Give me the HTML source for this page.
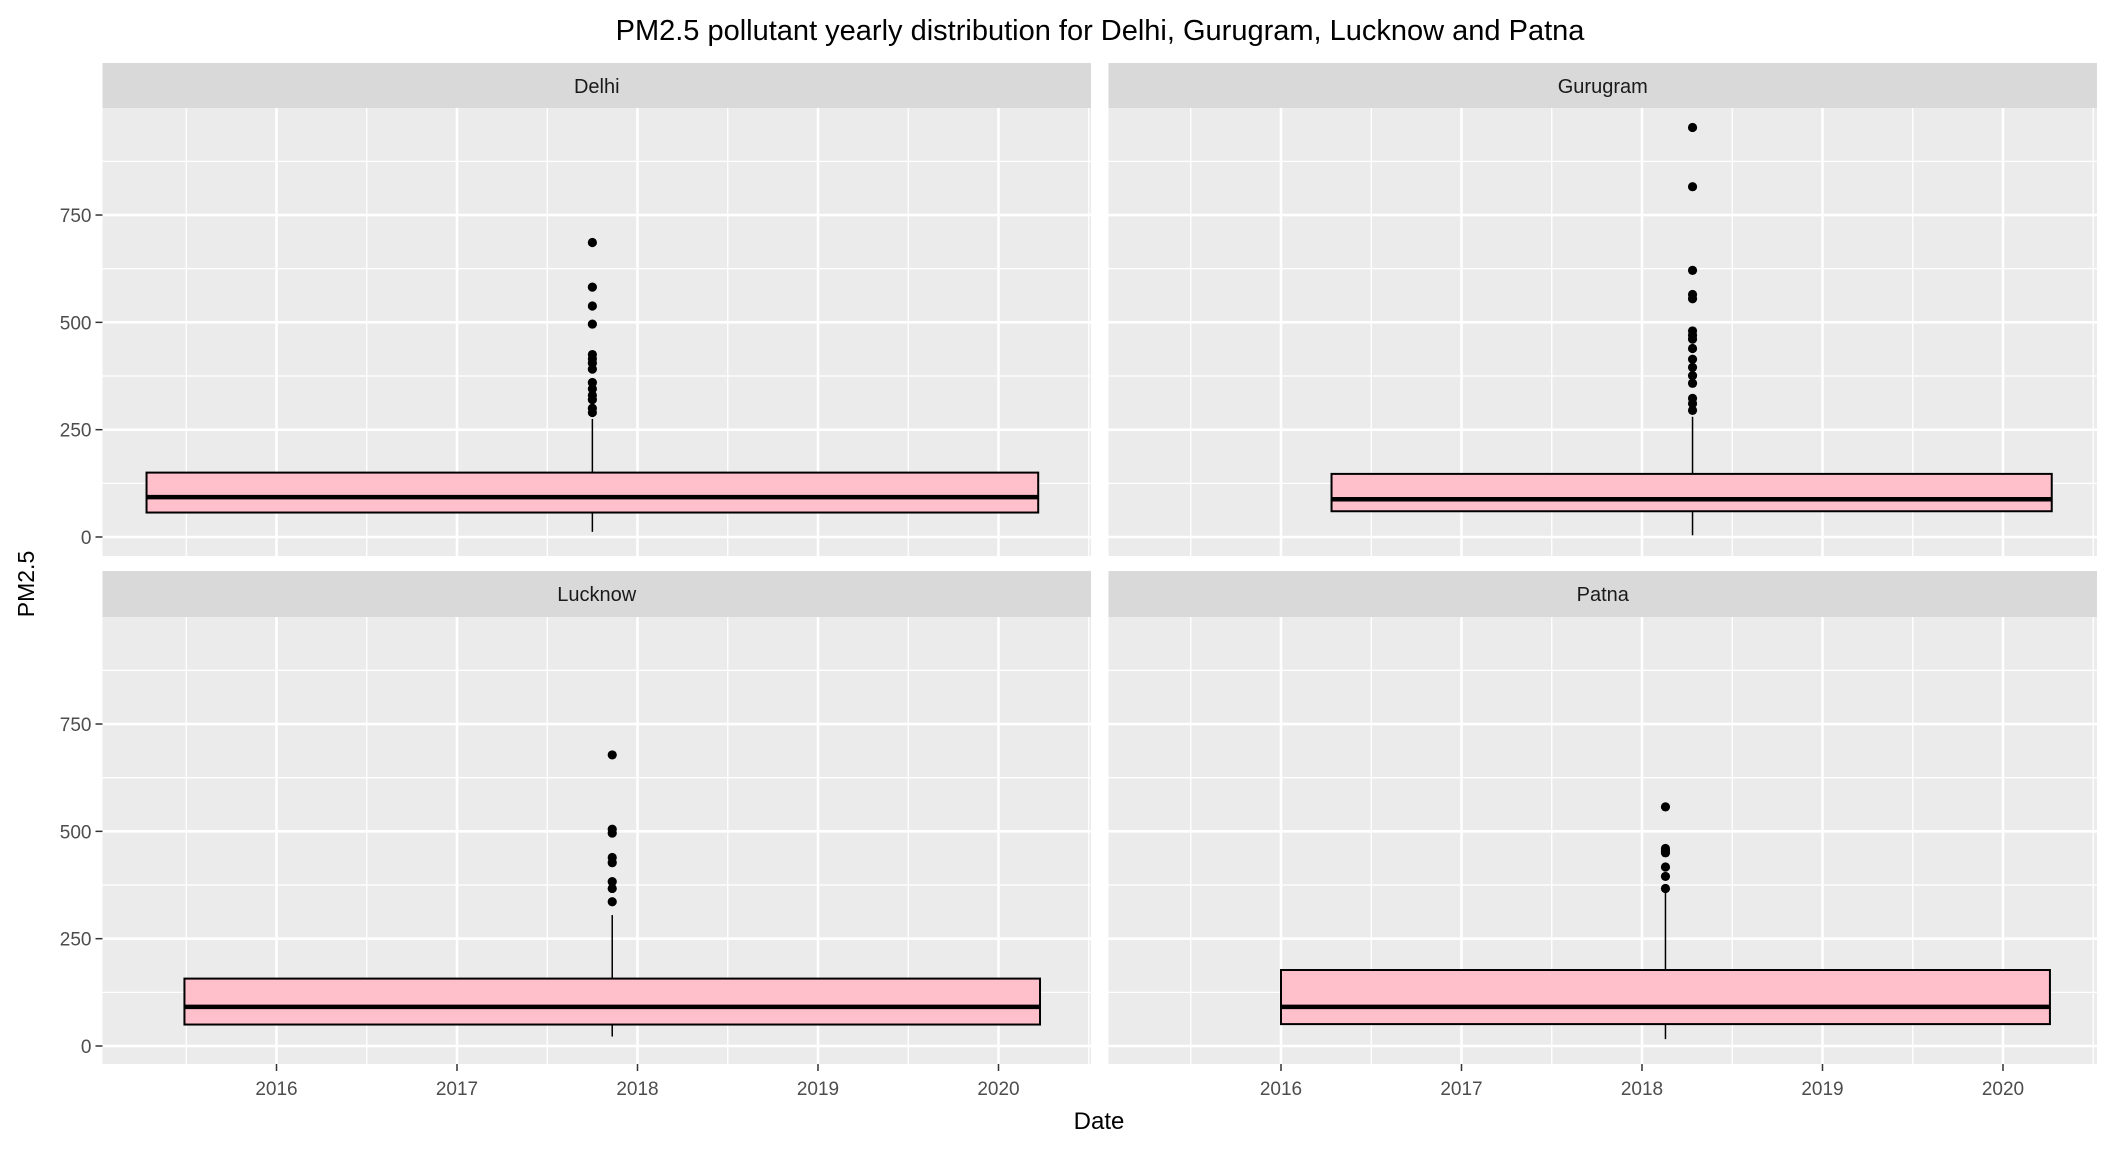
<!DOCTYPE html>
<html><head><meta charset="utf-8">
<style>
html,body{margin:0;padding:0;background:#fff;}
svg{display:block;font-family:"Liberation Sans",sans-serif;}
</style></head>
<body>
<svg id="chart" width="2112" height="1152" viewBox="0 0 2112 1152">
<text x="1100" y="40" font-size="29" text-anchor="middle" fill="#000">PM2.5 pollutant yearly distribution for Delhi, Gurugram, Lucknow and Patna</text>
<text x="0" y="0" font-size="23" text-anchor="middle" fill="#000" transform="translate(34,584) rotate(-90)">PM2.5</text>
<text x="1099" y="1129" font-size="24" text-anchor="middle" fill="#000">Date</text>
<g id="panels"></g>
</svg>
<script>
const cities = ["Delhi", "Gurugram", "Lucknow", "Patna"];
const boxStart = [2015.28, 2016.28, 2015.49, 2016.0];
const boxEnd = [2020.22, 2020.27, 2020.23, 2020.26];
const whiskerDate = [2017.75, 2018.28, 2017.86, 2018.13];
const lowerWhisker = [12, 4, 22, 16];
const q1 = [57, 60, 50, 51];
const medians = [93, 88, 91, 91];
const q3 = [150, 147, 157, 177];
const upperWhisker = [275, 280, 305, 360];
const outliersDelhi = [686, 582, 538, 496, 425, 415, 405, 391, 360, 345, 330, 320, 300, 290];
const outliersGurugram = [954, 816, 621, 565, 555, 480, 470, 461, 439, 414, 395, 376, 358, 323, 311, 295];
const outliersLucknow = [678, 505, 496, 439, 427, 383, 367, 336];
const outliersPatna = [557, 460, 455, 450, 417, 395, 367];
const outliers = [outliersDelhi, outliersGurugram, outliersLucknow, outliersPatna];
const yTicks = [0, 250, 500, 750];
const yMinor = [125, 375, 625, 875];
const xTicks = [2016, 2017, 2018, 2019, 2020];
const xMinor = [2015.5, 2016.5, 2017.5, 2018.5, 2019.5, 2020.5];

const NS = "http://www.w3.org/2000/svg";
const root = document.getElementById("panels");
function mk(tag, attrs, parent) {
  const e = document.createElementNS(NS, tag);
  for (const k in attrs) e.setAttribute(k, attrs[k]);
  parent.appendChild(e);
  return e;
}
const panelLeft = [102.5, 1108.5], panelW = 988.5;
const originOffset = [174, 172.5];
const stripTop = [63, 571], panelTop = [108, 617], panelBottom = [556, 1064];
cities.forEach((city, i) => {
  const col = i % 2, row = Math.floor(i / 2);
  const L = panelLeft[col], T = panelTop[row], B = panelBottom[row];
  const x0 = L + originOffset[col];
  const xs = d => x0 + (d - 2016) * 180.5;
  const y0 = T + 429;
  const ys = v => y0 - v * 0.4293;
  const g = mk("g", {}, root);
  
  
  const strip = mk("rect", {x: L, y: stripTop[row], width: panelW, height: T - stripTop[row], fill: "#d9d9d9"}, g);
  
  
  const st = mk("text", {x: L + panelW / 2, y: stripTop[row] + 30, "font-size": 20, "text-anchor": "middle", fill: "#1a1a1a"}, g);
  st.textContent = city;
  
  
  const bg = mk("rect", {x: L, y: T, width: panelW, height: B - T, fill: "#ebebeb"}, g);
  
  
  yMinor.forEach(v => { const l = mk("line", {x1: L, x2: L + panelW, y1: ys(v), y2: ys(v), stroke: "#fff", "stroke-width": 1.3}, g);
      });
  xMinor.forEach(v => { const l = mk("line", {x1: xs(v), x2: xs(v), y1: T, y2: B, stroke: "#fff", "stroke-width": 1.3}, g);
      });
  yTicks.forEach(v => { const l = mk("line", {x1: L, x2: L + panelW, y1: ys(v), y2: ys(v), stroke: "#fff", "stroke-width": 2.6}, g);
      });
  xTicks.forEach(v => { const l = mk("line", {x1: xs(v), x2: xs(v), y1: T, y2: B, stroke: "#fff", "stroke-width": 2.6}, g);
      });
  if (col === 0) {
    yTicks.forEach(v => {
      const t = mk("line", {x1: L - 7, x2: L, y1: ys(v), y2: ys(v), stroke: "#333", "stroke-width": 1.5}, g);
       
      const tx = mk("text", {x: L - 11, y: ys(v) + 7, "font-size": 19, "text-anchor": "end", fill: "#4d4d4d"}, g);
      tx.textContent = v;
       
    });
  }
  if (row === 1) {
    xTicks.forEach(v => {
      const t = mk("line", {x1: xs(v), x2: xs(v), y1: B, y2: B + 7, stroke: "#333", "stroke-width": 1.5}, g);
       
      const tx = mk("text", {x: xs(v), y: B + 31, "font-size": 19, "text-anchor": "middle", fill: "#4d4d4d"}, g);
      tx.textContent = v;
       
    });
  }
  const wx = xs(whiskerDate[i]);
  const w1 = mk("line", {x1: wx, x2: wx, y1: ys(q3[i]), y2: ys(upperWhisker[i]), stroke: "#000", "stroke-width": 1.5}, g);
   
  const w2 = mk("line", {x1: wx, x2: wx, y1: ys(q1[i]), y2: ys(lowerWhisker[i]), stroke: "#000", "stroke-width": 1.5}, g);
   
  const bx = mk("rect", {x: xs(boxStart[i]), y: ys(q3[i]), width: xs(boxEnd[i]) - xs(boxStart[i]), height: ys(q1[i]) - ys(q3[i]), fill: "pink", stroke: "#000", "stroke-width": 2}, g);
   
  const md = mk("line", {x1: xs(boxStart[i]), x2: xs(boxEnd[i]), y1: ys(medians[i]), y2: ys(medians[i]), stroke: "#000", "stroke-width": 4.5}, g);
   
  outliers[i].forEach(v => {
    const c = mk("circle", {cx: wx, cy: ys(v), r: 4.6, fill: "#000"}, g);
     
  });
});
</script>
</body></html>
